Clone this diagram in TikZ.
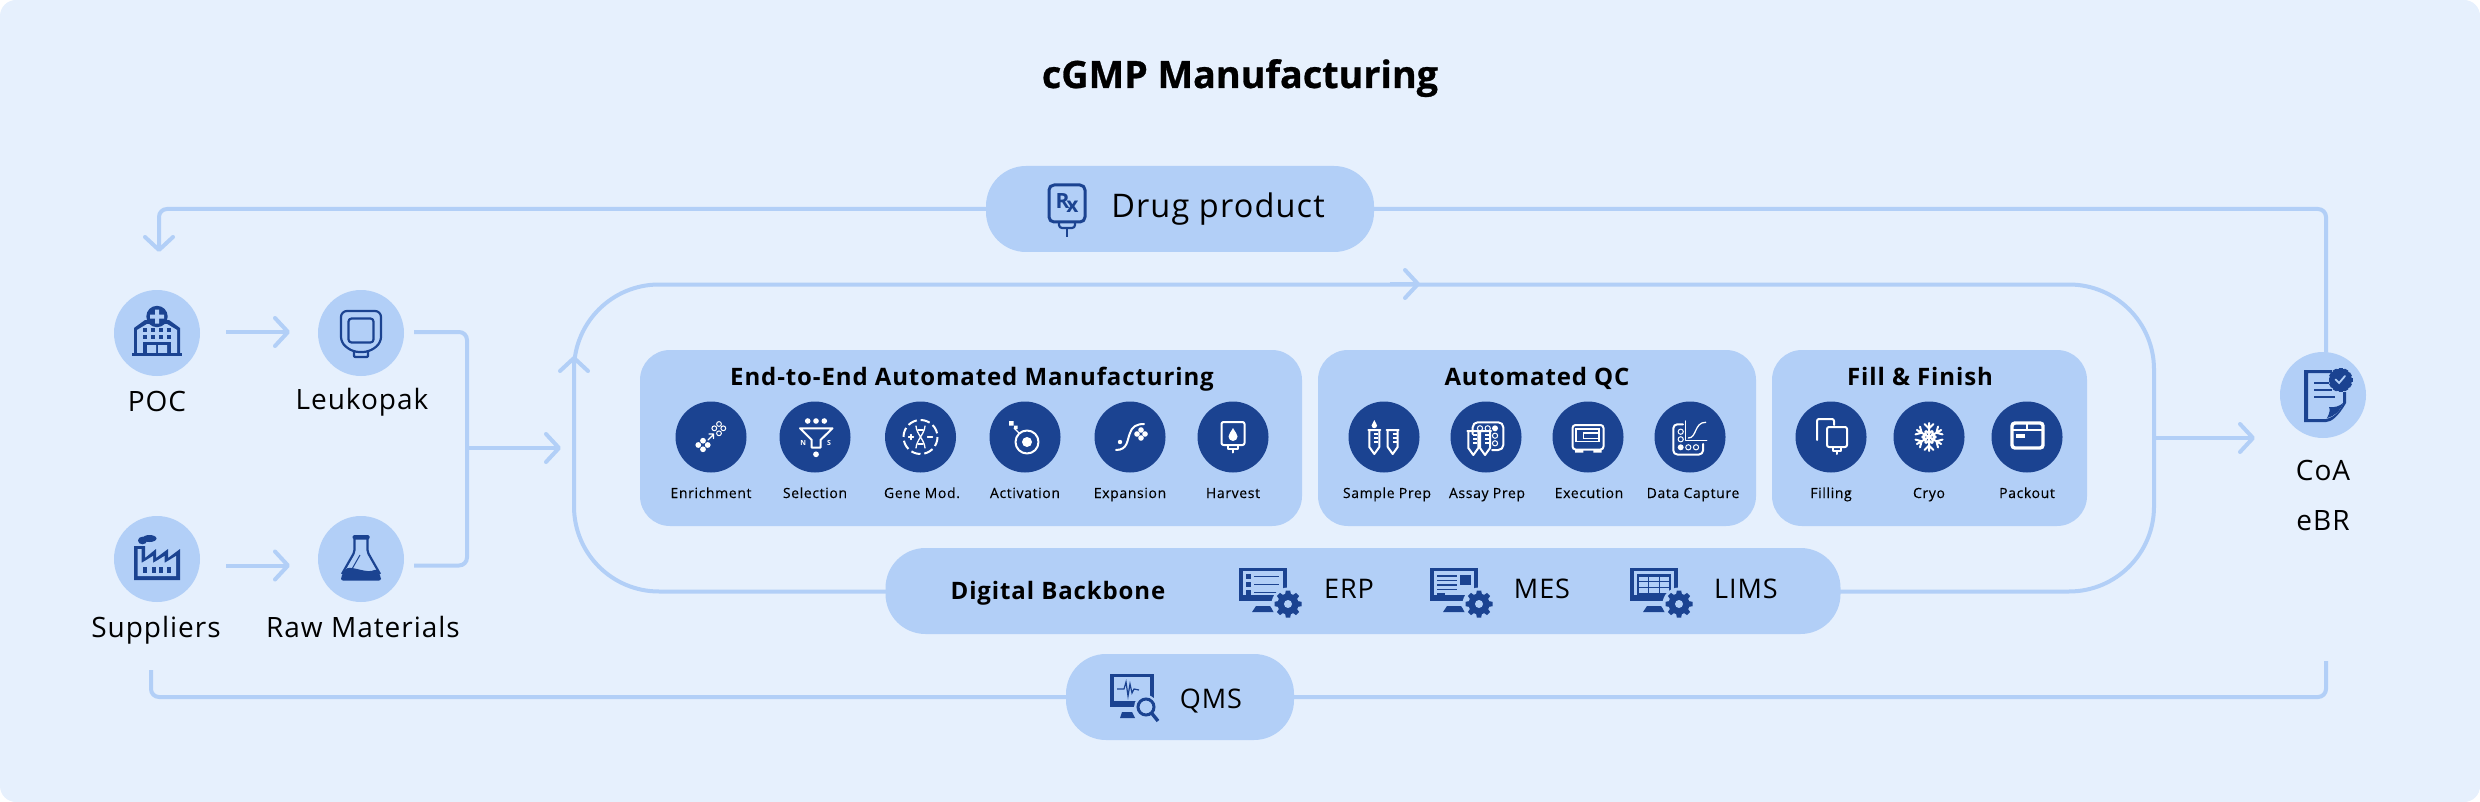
\documentclass[tikz,border=0pt]{standalone}
\usepackage{fontspec}
\setmainfont{Open Sans}
\newfontfamily\lsfont[LetterSpace=3.5]{Open Sans}
\newfontfamily\smfont[FakeBold=0.25,LetterSpace=4.5]{Open Sans}
\newfontfamily\hdfont[LetterSpace=3.7]{Open Sans}
\newfontfamily\ttlfont[BoldFeatures={FakeBold=0.7}]{Open Sans}
\usetikzlibrary{arrows.meta}
\definecolor{bgblue}{HTML}{E6F0FD}
\definecolor{ltblue}{HTML}{B2CFF7}
\definecolor{dkblue}{HTML}{1B4391}
\tikzset{
    flow/.style={draw=ltblue, line width=4pt, rounded corners=8pt},
    tip/.style={-{Straight Barb[length=13pt,width=28pt,round]}},
    outercirc/.style={circle, fill=ltblue, minimum size=86pt, inner sep=0pt, outer sep=0pt},
    darkcirc/.style={circle, fill=dkblue, minimum size=71pt, inner sep=0pt, outer sep=0pt},
    panel/.style={rectangle, fill=ltblue, rounded corners=30pt, inner sep=0pt, outer sep=0pt},
    pill/.style={rectangle, fill=ltblue, rounded corners=40pt, inner sep=0pt, outer sep=0pt},
    biglabel/.style={font=\fontsize{28}{34}\selectfont\lsfont, inner sep=0pt, anchor=base},
    midlabel/.style={font=\fontsize{27}{32}\selectfont\lsfont, inner sep=0pt, anchor=base},
    smalllabel/.style={font=\fontsize{14}{16}\selectfont\smfont, inner sep=0pt, anchor=base},
    headlabel/.style={font=\fontsize{24}{28}\selectfont\hdfont\bfseries, inner sep=0pt, anchor=base},
    wl/.style={draw=white, line width=2pt, line cap=round, line join=round},
    wt/.style={draw=white, line width=1.3pt, line cap=round, line join=round},
    dl/.style={draw=dkblue, line width=2.2pt, line join=round},
}
\newcommand{\hospitalicon}[1]{\begin{scope}[shift={(#1.center)}]
    \fill[dkblue] (-25,19.5) rectangle (25,23);
    \fill[dkblue] (-23,22)--(-23,-5)--(-12,-13)--(12,-13)--(23,-5)--(23,22)--cycle;
    \fill[ltblue] (-20,21)--(-20,-3)--(-10,-9)--(10,-9)--(20,-3)--(20,20)--cycle;
    \foreach \x in {-14,-6,2,10} \foreach \y in {-5,2} \fill[dkblue] (\x,\y) rectangle ++(4,4);
    \fill[dkblue] (-14,9) rectangle (14,22);
    \fill[ltblue] (-10,12) rectangle (-1,20) (1,12) rectangle (10,20);
    \fill[dkblue] (-25,19.5) rectangle (25,23);
    \fill[dkblue] (0,-16.5) circle (10.7);
    \fill[ltblue] (-7,-18.5) rectangle (7,-14.5) (-2,-23.5) rectangle (2,-9.5);
\end{scope}}
\newcommand{\bagicon}[1]{\begin{scope}[shift={(#1.center)}]
    \draw[dl, rounded corners=6pt] (-20,-22)--(20,-22)--(20,10)--(8,19)--(-8,19)--(-20,10)--cycle;
    \draw[dl, rounded corners=1pt] (-7,19)--(-7,24)--(7,24)--(7,19);
    \draw[dl, rounded corners=3pt] (-12.5,-14.5) rectangle (12.5,9.5);
\end{scope}}
\newcommand{\factoryicon}[1]{\begin{scope}[shift={(#1.center)}]
    \fill[dkblue] (-23,21)--(-23,-13)--(-12,-13)--(-12,-1)--(-1,-10)--(-1,-1)--(11,-10)--(11,-1)--(23,-10)--(23,21)--cycle;
    \fill[ltblue] (-19.5,17)--(-19.5,-10)--(-15.5,-10)--(-15.5,4)--(-4,-3)--(-4,4)--(7.5,-3)--(7.5,4)--(19,-3)--(19,17)--cycle;
    \foreach \x in {-13.7,-5.3,2.3,10} \fill[dkblue] (\x,7.7) rectangle ++(4,6);
    \fill[dkblue] (-7.5,-20.5) ellipse (7 and 3.5);
    \fill[dkblue] (-14.5,-18.5) ellipse (4.5 and 3.8);
\end{scope}}
\newcommand{\flaskicon}[1]{\begin{scope}[shift={(#1.center)}]
    \fill[dkblue, rounded corners=2pt] (-20,21.5)--(-20,18)--(-15.5,10) .. controls (-8,7) and (6,15) .. (15.5,10)--(20,18)--(20,21.5)--cycle;
    \draw[dl, rounded corners=2pt] (-6.5,-20)--(-6.5,-7)--(-19,15) (6.5,-20)--(6.5,-7)--(19,15);
    \draw[dkblue, line width=1pt] (-1,-4)--(-9,10);
    \fill[dkblue, rounded corners=1.5pt] (-8.5,-24) rectangle (8.5,-19.5);
\end{scope}}
\newcommand{\rxicon}[2]{\begin{scope}[shift={(#1,#2)}]
    \draw[dl, line width=3pt, rounded corners=5pt] (0,0) rectangle (36,37);
    \draw[dl, rounded corners=3pt] (10,38)--(10,43)--(26,43)--(26,38);
    \draw[dl, line width=1.5pt] (18,43)--(18,52);
    \node (rxglyph) at (18,18) {\fontsize{21}{21}\selectfont\bfseries\color{dkblue}R\kern-3pt\raisebox{-4pt}{x}};
\end{scope}}
\newcommand{\enrichicon}[1]{\begin{scope}[shift={(#1.center)}]
    \foreach \p in {(-12.7,8),(-3.3,8),(-8,3.7),(-8,12.3)} \fill[white] \p circle (2.9);
    \draw[wt] (-3,3)--(2,-2) (-2,-3)--(2.5,-3)--(2.5,1.5);
    \foreach \p in {(3.3,-8.7),(12.3,-8.7),(8,-13),(8,-3.7)} \draw[white, line width=1pt] \p circle (2.4);
\end{scope}}
\newcommand{\selecticon}[1]{\begin{scope}[shift={(#1.center)}]
    \foreach \x in {-7.3,1,9.3} \fill[white] (\x,-16) circle (2.8);
    \draw[wl] (-15,-8.7)--(17.5,-8.7)--(5.5,3)--(5.5,10.5)--(-3.3,10.5)--(-3.3,3)--cycle;
    \node (nmark) at (-11.7,6.3) {\fontsize{7}{7}\selectfont\bfseries\color{white}N};
    \node (smark) at (14,6.3) {\fontsize{7}{7}\selectfont\bfseries\color{white}S};
    \fill[white] (1,17.3) circle (2.9);
\end{scope}}
\newcommand{\geneicon}[1]{\begin{scope}[shift={(#1.center)}]
    \draw[white, line width=2pt, dash pattern=on 9.5pt off 3.85pt] (0,0) circle (17);
    \draw[wt] (-4.5,-11) .. controls (-4,-3) and (4,3) .. (4.5,11) (4.5,-11) .. controls (4,-3) and (-4,3) .. (-4.5,11);
    \draw[wt] (-2.5,-7)--(2.5,-7) (-2.5,7)--(2.5,7);
    \draw[wt] (-12,0)--(-7,0) (-9.5,-2.5)--(-9.5,2.5) (7,0)--(12,0);
\end{scope}}
\newcommand{\activicon}[1]{\begin{scope}[shift={(#1.center)}]
    \draw[wl] (2,5) circle (11.5);
    \fill[white] (2,5) circle (5);
    \draw[wt] (-6,-4)--(-11,-9);
    \fill[white] (-16,-16) rectangle ++(4.5,4.5) (-11,-11.5) rectangle ++(3.5,3.5);
\end{scope}}
\newcommand{\expandicon}[1]{\begin{scope}[shift={(#1.center)}]
    \draw[wl] (-14,13) .. controls (-2,13) and (-3,3) .. (0,-4) .. controls (2,-10) and (6,-13) .. (14,-13);
    \fill[white] (-10,5) circle (2.2);
    \foreach \p in {(7,-3),(15,-3),(11,-7),(11,1)} \fill[white] \p circle (2.8);
\end{scope}}
\newcommand{\harvesticon}[1]{\begin{scope}[shift={(#1.center)}]
    \draw[wl, rounded corners=2pt] (-11.5,-15) rectangle (11.5,8);
    \fill[white] (0,-9) .. controls (2,-5) and (4.5,-3) .. (4.5,-0.5) arc (0:180:4.5) .. controls (-4.5,-3) and (-2,-5) .. (0,-9);
    \draw[wl] (-5,9)--(-5,12)--(5,12)--(5,9) (0,12)--(0,15.5);
\end{scope}}
\newcommand{\tubeglyph}[2]{\begin{scope}[shift={(#1,#2)}]
    \draw[wl] (-6,-8)--(6,-8) (-5,-8)--(-5,9)--(0,16)--(5,9)--(5,-8);
    \draw[white, line width=1.2pt] (0,-4)--(4,-4) (0,0)--(4,0) (0,4)--(4,4);
\end{scope}}
\newcommand{\sampleicon}[1]{\begin{scope}[shift={(#1.center)}]
    \tubeglyph{-9.7}{1}
    \tubeglyph{8.7}{1}
    \fill[white] (-9.7,-17) .. controls (-8.7,-14) and (-7,-13) .. (-7,-11.5) arc (0:180:2.7) .. controls (-12.4,-13) and (-10.7,-14) .. (-9.7,-17);
\end{scope}}
\newcommand{\assayicon}[1]{\begin{scope}[shift={(#1.center)}]
    \draw[wl, rounded corners=5pt] (-13.3,-3)--(-13.3,-14.7)--(17.3,-14.7)--(17.3,13)--(6,13);
    \foreach \x in {-6,1.7} \draw[white, line width=1pt] (\x,-8.7) circle (2.6);
    \fill[white] (9,-8.7) circle (3);
    \foreach \y in {-1.3,6.3} \draw[white, line width=1pt] (9,\y) circle (2.6);
    \tubeglyph{-12.7}{2}
    \tubeglyph{-1}{2}
\end{scope}}
\newcommand{\execicon}[1]{\begin{scope}[shift={(#1.center)}]
    \draw[wl, rounded corners=3pt] (-15.5,-12) rectangle (15.5,12.5);
    \draw[white, line width=1.2pt] (-12,-8) rectangle (11,4.7);
    \draw[white, line width=1.2pt] (-4.7,-4.7) rectangle (10.3,1.3);
    \fill[white] (-4.7,-4.7) rectangle (10.3,-2.7);
    \fill[white] (-13,12) rectangle (-4.7,15.5) (5.3,12) rectangle (13.7,15.5);
\end{scope}}
\newcommand{\dataicon}[1]{\begin{scope}[shift={(#1.center)}]
    \draw[wl, rounded corners=4pt] (-7,-12.7)--(-16.7,-12.7)--(-16.7,17.5)--(13,17.5)--(13,7);
    \foreach \y in {-5.3,2.3} \draw[white, line width=1pt] (-9.3,\y) circle (2.6);
    \fill[white] (-9.3,10.3) circle (3);
    \foreach \x in {-1.7,6} \draw[white, line width=1pt] (\x,10.3) circle (2.6);
    \draw[wt] (-4.3,-16)--(-4.3,3.5)--(16.7,3.5);
    \draw[wt] (-1.7,1) .. controls (7,1) and (4,-14.7) .. (15.7,-14.7);
\end{scope}}
\newcommand{\fillicon}[1]{\begin{scope}[shift={(#1.center)}]
    \draw[wl, rounded corners=2pt] (-14,3)--(-14,-18)--(3,-18)--(3,-12);
    \draw[wl, rounded corners=2pt] (-4,-10) rectangle (16,10);
    \draw[wl] (2,10)--(2,14)--(10,14)--(10,10) (6,14)--(6,17);
\end{scope}}
\newcommand{\cryoicon}[1]{\begin{scope}[shift={(#1.center)}]
    \foreach \a in {0,60,...,300} \draw[wl, rotate=\a] (0,0)--(0,-14) (-4.5,-13)--(0,-8.5)--(4.5,-13) (-3,-6)--(0,-3.5)--(3,-6);
\end{scope}}
\newcommand{\packicon}[1]{\begin{scope}[shift={(#1.center)}]
    \draw[white, line width=3.4pt, rounded corners=3pt] (-15,-14) rectangle (16,11);
    \draw[white, line width=2.4pt] (-15,-7)--(16,-7) (0,-14)--(0,-7);
    \fill[white] (-11,-3) rectangle (-2,1);
\end{scope}}
\newcommand{\screenicon}[3]{\begin{scope}[shift={(#1,#2)}]
    \fill[dkblue] (0,0) rectangle (48,33);
    \fill[ltblue] (4,3) rectangle (44,27);
    \fill[dkblue] (17,38)--(31,38)--(35,44)--(13,44)--cycle;
    #3
    \fill[ltblue] (49,36) circle (16.5);
    \fill[dkblue] (49,36) circle (10.5);
    \foreach \a in {0,45,...,315} \fill[dkblue, rotate around={\a:(49,36)}] (46,27)--(52,27)--(51.2,22.5)--(46.8,22.5)--cycle;
    \fill[ltblue] (49,36) circle (4);
\end{scope}}
\newcommand{\qmsicon}[2]{\begin{scope}[shift={(#1,#2)}]
    \fill[dkblue] (0,0) rectangle (44,33);
    \fill[ltblue] (4,3) rectangle (40,27);
    \fill[dkblue] (12,38)--(22,38)--(25,44)--(10,44)--cycle;
    \draw[dkblue, line width=1.2pt] (7,15)--(14,15)--(16,8)--(18,22)--(20,10)--(22,19)--(24,15)--(29,16);
    \fill[ltblue] (36,33) circle (12);
    \draw[dkblue, line width=3pt] (36,33) circle (8);
    \draw[dkblue, line width=3.4pt] (41.5,39)--(48,47);
\end{scope}}
\newcommand{\docicon}[1]{\begin{scope}[shift={(#1.center)}]
    \fill[dkblue] (-19,-25)--(9,-25)--(9,-22)--(-15,-22)--(-15,24)--(3,24) .. controls (12,22) and (17,16) .. (20,8)--(20,-3)--(23,-3)--(23,8) .. controls (15,22) and (8,27) .. (3,27)--(-19,27)--cycle;
    \fill[dkblue] (4,23) .. controls (7,18) and (7,14) .. (6,12) .. controls (11,13) and (17,11) .. (20,8) .. controls (17,16) and (12,21) .. (4,23)--cycle;
    \draw[dkblue, line width=1.5pt] (-9,-12)--(6,-12) (-9,-5)--(9,-5) (-9,2)--(12,2);
    \fill[dkblue] (17.5,-15) circle (11.5);
    \foreach \a in {0,30,...,330} \fill[dkblue, rotate around={\a:(17.5,-15)}] (15.5,-27)--(19.5,-27)--(19.5,-22)--(15.5,-22)--cycle;
    \draw[ltblue, line width=1.8pt, line cap=round] (12.5,-15.5)--(16,-12)--(22,-19);
\end{scope}}

\begin{document}
\begin{tikzpicture}[x=1pt, y=-1pt]
\useasboundingbox (0,0) rectangle (2480,802);
\node (backdrop) [rectangle, fill=bgblue, rounded corners=16pt, minimum width=2480pt, minimum height=802pt, inner sep=0pt, outer sep=0pt] at (1240,401) {};
\node (title) [font=\fontsize{37.7}{44}\selectfont\ttlfont\bfseries, inner sep=0pt, anchor=base] at (1240,88) {cGMP Manufacturing};

\node (loop) [rectangle, draw=ltblue, line width=4pt, rounded corners=85pt, minimum width=1580pt, minimum height=307pt, inner sep=0pt] at (1364,438) {};
\coordinate (looptopa) at (1390,284);
\coordinate (looptopb) at (1420,284);
\coordinate (loopsidea) at (574,390);
\coordinate (loopsideb) at (574,356);
\draw[flow, tip] (looptopa) -- (looptopb);
\draw[flow, tip] (loopsidea) -- (loopsideb);

\node (poc) [outercirc] at (157,333) {};
\node (leuko) [outercirc] at (361,333) {};
\node (supp) [outercirc] at (157,559) {};
\node (raw) [outercirc] at (361,559) {};
\node (coa) [outercirc] at (2323,395) {};
\node (poctxt) [biglabel] at (157,411) {POC};
\node (leukotxt) [biglabel] at (362,409) {Leukopak};
\node (supptxt) [biglabel] at (156,637) {Suppliers};
\node (rawtxt) [biglabel] at (363,637) {Raw Materials};
\node (coatxt) [biglabel] at (2323,480) {CoA};
\node (ebrtxt) [biglabel] at (2323,530) {eBR};

\node (drug) [pill, minimum width=388pt, minimum height=86pt] at (1180,209) {};
\node (drugtxt) [font=\fontsize{32.5}{40}\selectfont\lsfont, inner sep=0pt, anchor=base] at (1218,218) {Drug product};
\node (digi) [pill, minimum width=955pt, minimum height=86pt] at (1363,591) {};
\node (digitxt) [headlabel] at (1058,599) {Digital Backbone};
\node (erptxt) [midlabel] at (1349,598) {ERP};
\node (mestxt) [midlabel] at (1542,598) {MES};
\node (limstxt) [midlabel] at (1746,598) {LIMS};
\node (qms) [pill, minimum width=228pt, minimum height=86pt] at (1180,697) {};
\node (qmstxt) [midlabel] at (1211,708) {QMS};

\node (e2e) [panel, minimum width=662pt, minimum height=176pt] at (971,438) {};
\node (qc) [panel, minimum width=438pt, minimum height=176pt] at (1537,438) {};
\node (ff) [panel, minimum width=315pt, minimum height=176pt] at (1929.5,438) {};
\node (e2etxt) [headlabel] at (972,385) {End-to-End Automated Manufacturing};
\node (qctxt) [headlabel] at (1537,385) {Automated QC};
\node (fftxt) [headlabel] at (1920,385) {Fill \& Finish};

\node (enrich) [darkcirc] at (711,437) {};
\node (select) [darkcirc] at (815,437) {};
\node (gene) [darkcirc] at (920.5,437) {};
\node (activ) [darkcirc] at (1025,437) {};
\node (expand) [darkcirc] at (1130,437) {};
\node (harvest) [darkcirc] at (1233,437) {};
\node (sample) [darkcirc] at (1384,437) {};
\node (assay) [darkcirc] at (1486,437) {};
\node (exec) [darkcirc] at (1588,437) {};
\node (data) [darkcirc] at (1690,437) {};
\node (filling) [darkcirc] at (1831,437) {};
\node (cryo) [darkcirc] at (1929,437) {};
\node (pack) [darkcirc] at (2027,437) {};

\node (enrichtxt) [smalllabel] at (711,498) {Enrichment};
\node (selecttxt) [smalllabel] at (815,498) {Selection};
\node (genetxt) [smalllabel] at (922,498) {Gene Mod.};
\node (activtxt) [smalllabel] at (1025,498) {Activation};
\node (expandtxt) [smalllabel] at (1130,498) {Expansion};
\node (harvesttxt) [smalllabel] at (1233,498) {Harvest};
\node (sampletxt) [smalllabel] at (1387,498) {Sample Prep};
\node (assaytxt) [smalllabel] at (1487,498) {Assay Prep};
\node (exectxt) [smalllabel] at (1589,498) {Execution};
\node (datatxt) [smalllabel] at (1693,498) {Data Capture};
\node (fillingtxt) [smalllabel] at (1831,498) {Filling};
\node (cryotxt) [smalllabel] at (1929,498) {Cryo};
\node (packtxt) [smalllabel] at (2027,498) {Packout};

\coordinate (drugleft) at (159,209);
\coordinate (drugdown) at (159,252);
\coordinate (drugright) at (2326,209);
\coordinate (coatop) at (2326,352);
\coordinate (qmsup) at (151,670);
\coordinate (qmsleft) at (151,697);
\coordinate (qmsright) at (2326,697);
\coordinate (qmsend) at (2326,661);
\coordinate (joinleuko) at (414,332);
\coordinate (joinraw) at (414,565.5);
\coordinate (joinx) at (467,332);
\coordinate (joiny) at (467,565.5);
\coordinate (joinmid) at (467,448);
\coordinate (loopin) at (561,448);
\coordinate (coain) at (2255,438);
\coordinate (pocout) at (226,332);
\coordinate (leukoin) at (290,332);
\coordinate (suppout) at (226,565.5);
\coordinate (rawin) at (290,565.5);

\draw[flow, tip] (drug.west) -- (drugleft) -- (drugdown);
\draw[flow] (drug.east) -- (drugright) -- (coatop);
\draw[flow] (qmsup) -- (qmsleft) -- (qms.west);
\draw[flow] (qms.east) -- (qmsright) -- (qmsend);
\draw[flow, tip] (pocout) -- (leukoin);
\draw[flow, tip] (suppout) -- (rawin);
\draw[flow] (joinleuko) -- (joinx) -- (joiny) -- (joinraw);
\draw[flow, tip] (joinmid) -- (loopin);
\draw[flow, tip] (loop.east) -- (coain);

\hospitalicon{poc}
\bagicon{leuko}
\factoryicon{supp}
\flaskicon{raw}
\docicon{coa}
\rxicon{1049}{185}
\enrichicon{enrich}
\selecticon{select}
\geneicon{gene}
\activicon{activ}
\expandicon{expand}
\harvesticon{harvest}
\sampleicon{sample}
\assayicon{assay}
\execicon{exec}
\dataicon{data}
\fillicon{filling}
\cryoicon{cryo}
\packicon{pack}

\screenicon{1239}{568}{
    \foreach \y in {6,14,22} {\fill[dkblue] (7,\y) rectangle ++(5,5); \fill[dkblue] (15,\y+1.5) rectangle ++(25,1.6);}
}
\screenicon{1430}{568}{
    \foreach \y in {7,11.5,16,20.5} \fill[dkblue] (7,\y) rectangle ++(20,1.6);
    \fill[dkblue] (7,25) rectangle ++(8,1.6);
    \fill[dkblue] (30,7) rectangle (41,17);
}
\screenicon{1630}{568}{
    \draw[dkblue, line width=1.3pt] (8,7) rectangle (40,26) (18.7,7)--(18.7,26) (29.3,7)--(29.3,26) (8,13.3)--(40,13.3) (8,19.6)--(40,19.6);
    \fill[dkblue] (8,7) rectangle (40,9);
}
\qmsicon{1110}{674}
\end{tikzpicture}
\end{document}
